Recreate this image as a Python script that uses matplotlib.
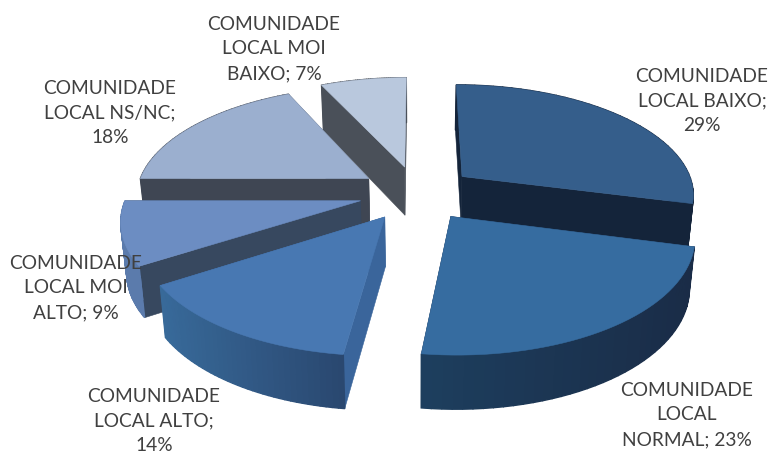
import numpy as np
import matplotlib
matplotlib.use("Agg")
import matplotlib.pyplot as plt
from matplotlib.patches import Rectangle

# data
categories = ["COMUNIDADE LOCAL BAIXO", "COMUNIDADE LOCAL NORMAL", "COMUNIDADE LOCAL ALTO",
              "COMUNIDADE LOCAL MOI ALTO", "COMUNIDADE LOCAL NS/NC", "COMUNIDADE LOCAL MOI BAIXO"]
values = [29, 23, 14, 9, 18, 7]

# style
label_lines = [["COMUNIDADE", "LOCAL BAIXO;"], ["COMUNIDADE", "LOCAL", "NORMAL;"],
               ["COMUNIDADE", "LOCAL ALTO;"], ["COMUNIDADE", "LOCAL MOI", "ALTO;"],
               ["COMUNIDADE", "LOCAL NS/NC;"], ["COMUNIDADE", "LOCAL MOI", "BAIXO;"]]
label_pos = [(702, 101), (687, 415), (154, 421), (76, 288), (110, 113), (274, 49)]
top_col = ["#355E8B", "#366CA0", "#4878B2", "#6C8DC2", "#9BAFCF", "#B9C8DD"]
radial_col = ["#14243A", "#1A2C47", "#3A659B", "#37485F", "#3F4653", "#4A5059"]
outer_col = [("#14243A", "#14243A"), ("#1D3F5F", "#1A2C47"), ("#386A9A", "#2A4870"),
             ("#5B7BAC", "#5B7BAC"), ("#3F4653", "#3F4653"), ("#4A5059", "#4A5059")]
draw_order = [5, 4, 0, 3, 2, 1]
CX, CY, RX, RY, K, EXPL, DEPTH = 417, 194, 233, 110, 0.15, 0.25, 49

def project(u, v, base=False):
    w = 1 / (1 + K * v)
    x = CX + RX * u * w * (0.98 if base else 1)
    y = CY - RY * v * w + (DEPTH * w ** 0.5 if base else 0)
    return x, y

def hex2rgb(h):
    return np.array(matplotlib.colors.to_rgb(h))

fig = plt.figure(figsize=(7.71, 4.56), dpi=100)
ax = fig.add_axes([0, 0, 1, 1])
ax.set_xlim(0, 771); ax.set_ylim(456, 0); ax.axis("off")

fracs = np.array(values) / np.sum(values)
edges = np.concatenate([[0], np.cumsum(fracs)]) * 2 * np.pi

for i in draw_order:
    a0, a1 = edges[i], edges[i + 1]
    mid = (a0 + a1) / 2
    ou, ov = EXPL * np.sin(mid), EXPL * np.cos(mid)
    th = np.linspace(a0, a1, 40)
    au, av = ou + np.sin(th), ov + np.cos(th)
    tx, ty = project(au, av)
    bx, by = project(au, av, True)
    ax0, ay0 = project(ou, ov)
    bx0, by0 = project(ou, ov, True)
    z = 2 + draw_order.index(i) * 4
    # radial walls
    for j in (0, -1):
        ax.fill([ax0, tx[j], bx[j], bx0], [ay0, ty[j], by[j], by0], fc=radial_col[i],
                ec=radial_col[i], lw=0.4, zorder=z)
    # outer wall with gradient
    c0, c1 = hex2rgb(outer_col[i][0]), hex2rgb(outer_col[i][1])
    for j in range(len(th) - 1):
        t = np.clip((tx[j] - tx.min()) / max(tx.max() - tx.min(), 1), 0, 1)
        c = c0 + (c1 - c0) * t
        ax.fill([tx[j], tx[j + 1], bx[j + 1], bx[j]], [ty[j], ty[j + 1], by[j + 1], by[j]],
                fc=c, ec=c, lw=1.0, zorder=z + 1)
        if i == 3:
            # the wall hides the tail of the label's second line in the reference
            p = ax.fill([tx[j], tx[j + 1], bx[j + 1], bx[j]], [ty[j], ty[j + 1], by[j + 1], by[j]],
                        fc=c, ec=c, lw=1.0, zorder=101)[0]
            p.set_clip_path(Rectangle((100, 277), 60, 24, transform=ax.transData))
    # top surface
    ax.fill(np.r_[ax0, tx], np.r_[ay0, ty], fc=top_col[i], ec=top_col[i], lw=0.4, zorder=z + 2)

for i, (lines, (lx, ly)) in enumerate(zip(label_lines, label_pos)):
    parts = list(lines)
    if len(parts) == 3:
        parts[-1] = f"{parts[-1]} {values[i]}%"
    else:
        parts.append(f"{values[i]}%")
    ax.text(lx, ly, "\n".join(parts), ha="center", va="center", fontsize=13.75,
            family="Lato", color="#404040", linespacing=1.55, zorder=100, clip_on=False)

fig.savefig("out.png", dpi=100)
